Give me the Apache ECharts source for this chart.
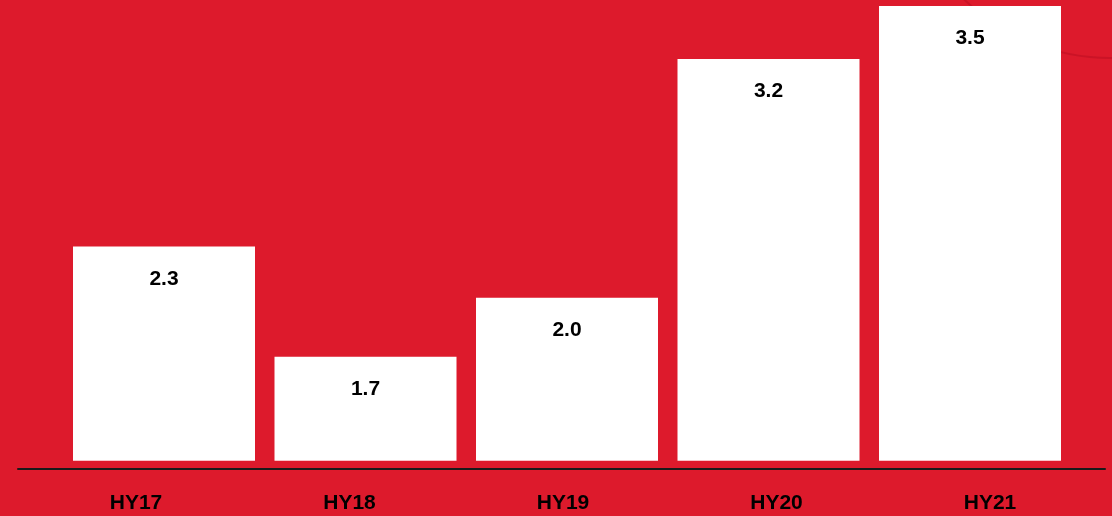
<!DOCTYPE html>
<html>
<head>
<meta charset="utf-8">
<script src="https://cdn.jsdelivr.net/npm/echarts@6/dist/echarts.min.js"></script>
<style>
html,body{margin:0;padding:0;background:#DD1A2C;}
#chart{width:1112px;height:516px;}
</style>
</head>
<body>
<div id="chart"></div>
<script>
var categories = ['HY17', 'HY18', 'HY19', 'HY20', 'HY21'];
var values = [2.265, 1.70, 2.003, 3.228, 3.50];

var chart = echarts.init(document.getElementById('chart'));
var font = '"Liberation Sans", Arial, sans-serif';
chart.setOption({
  backgroundColor: '#DD1A2C',
  animation: false,
  graphic: [{
    type: 'circle',
    shape: { cx: 1110, cy: -153, r: 211 },
    style: { fill: 'none', stroke: 'rgba(170,10,30,0.35)', lineWidth: 2 },
    z: -10
  }],
  grid: [
    { left: 63.25, right: 41.25, top: 0, bottom: 55.3 },
    { left: 29.25, right: 15.25, top: 0, bottom: 13 },
    { left: 18, right: 7, top: 0, bottom: 47 }
  ],
  xAxis: [
    { type: 'category', data: categories, gridIndex: 0, show: false },
    { type: 'category', data: categories, gridIndex: 1,
      axisLine: { show: false }, axisTick: { show: false },
      axisLabel: { color: '#000', fontFamily: font, fontWeight: 'bold', fontSize: 21, margin: 0, verticalAlign: 'middle' } },
    { type: 'value', gridIndex: 2, min: 0, max: 1,
      axisLine: { show: true, lineStyle: { color: '#1a1a1a', width: 2 } },
      axisTick: { show: false }, axisLabel: { show: false }, splitLine: { show: false } }
  ],
  yAxis: [
    { type: 'value', gridIndex: 0, min: 1.166, max: 3.531, show: false, splitLine: { show: false } },
    { type: 'value', gridIndex: 1, show: false, splitLine: { show: false } },
    { type: 'value', gridIndex: 2, show: false, splitLine: { show: false } }
  ],
  series: [{
    type: 'bar',
    xAxisIndex: 0,
    yAxisIndex: 0,
    data: values,
    barWidth: 182,
    itemStyle: { color: '#ffffff' },
    label: {
      show: true,
      position: 'insideTop',
      distance: 22,
      color: '#000',
      fontFamily: font,
      fontWeight: 'bold',
      fontSize: 21,
      formatter: function (p) { return p.value.toFixed(1); }
    }
  }]
});
</script>
</body>
</html>
